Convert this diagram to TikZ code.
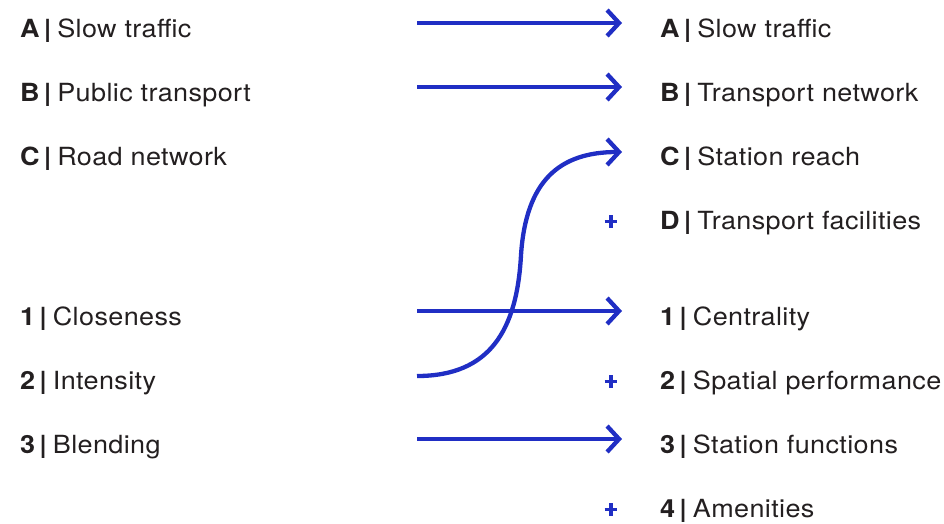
\documentclass[tikz,border=0pt]{standalone}
\usepackage{fontspec}
\setmainfont{TeX Gyre Heros}[FakeStretch=1.08, LetterSpace=1.5]
\usetikzlibrary{arrows.meta}
\definecolor{arrowblue}{RGB}{32,46,196}
\definecolor{ink}{RGB}{35,31,32}
\tikzset{
  lbl/.style={anchor=base west, inner sep=0pt, text=ink, font=\fontsize{25}{30}\selectfont},
  flow/.style={draw=arrowblue, line width=4.3pt, -{Straight Barb[length=12pt, width=26pt, line width=4.3pt]}},
  plusmark/.style={anchor=center, inner sep=0pt, minimum size=12.5pt, shape=rectangle},
  plusline/.style={draw=arrowblue, line width=3.3pt}
}
\newcommand{\itm}[2]{\textbf{#1\hspace{0.17em}|}\hspace{0.22em}#2}
\begin{document}
\begin{tikzpicture}[x=1pt,y=-1pt]
\useasboundingbox (0,0) rectangle (944,523);
% left column
\node[lbl] (lA) at (20,37) {\itm{A}{Slow traffic}};
\node[lbl] (lB) at (20,101) {\itm{B}{Public transport}};
\node[lbl] (lC) at (20,165) {\itm{C}{Road network}};
\node[lbl] (l1) at (20,325) {\itm{1}{Closeness}};
\node[lbl] (l2) at (20,389) {\itm{2}{Intensity}};
\node[lbl] (l3) at (20,453) {\itm{3}{Blending}};
% right column
\node[lbl] (rA) at (660,37) {\itm{A}{Slow traffic}};
\node[lbl] (rB) at (660,101) {\itm{B}{Transport network}};
\node[lbl] (rC) at (660,165) {\itm{C}{Station reach}};
\node[lbl] (rD) at (660,229) {\itm{D}{Transport facilities}};
\node[lbl] (r1) at (660,325) {\itm{1}{Centrality}};
\node[lbl] (r2) at (660,389) {\itm{2}{Spatial performance}};
\node[lbl] (r3) at (660,453) {\itm{3}{Station functions}};
\node[lbl] (r4) at (660,517) {\itm{4}{Amenities}};
% plus marks
\node[plusmark] (pD) at (611,221.5) {};
\node[plusmark] (p2) at (611,381.5) {};
\node[plusmark] (p4) at (611,509.5) {};
\foreach \p in {pD,p2,p4}
  \draw[plusline] (\p.north) -- (\p.south) (\p.west) -- (\p.east);
% connector endpoints
\coordinate (sA) at (417,23);  \coordinate (eA) at (622,23);
\coordinate (sB) at (417,87);  \coordinate (eB) at (622,87);
\coordinate (s1) at (417,311); \coordinate (e1) at (622,311);
\coordinate (s3) at (417,439); \coordinate (e3) at (622,439);
\coordinate (s2) at (417,376); \coordinate (m2) at (521,255); \coordinate (eC) at (622,152);
% connectors
\draw[flow] (sA) -- (eA);
\draw[flow] (sB) -- (eB);
\draw[flow] (s1) -- (e1);
\draw[flow] (s3) -- (e3);
\draw[flow] (s2) .. controls (490,376) and (517,330) .. (m2) .. controls (526,180) and (560,152) .. (eC);
\end{tikzpicture}
\end{document}
